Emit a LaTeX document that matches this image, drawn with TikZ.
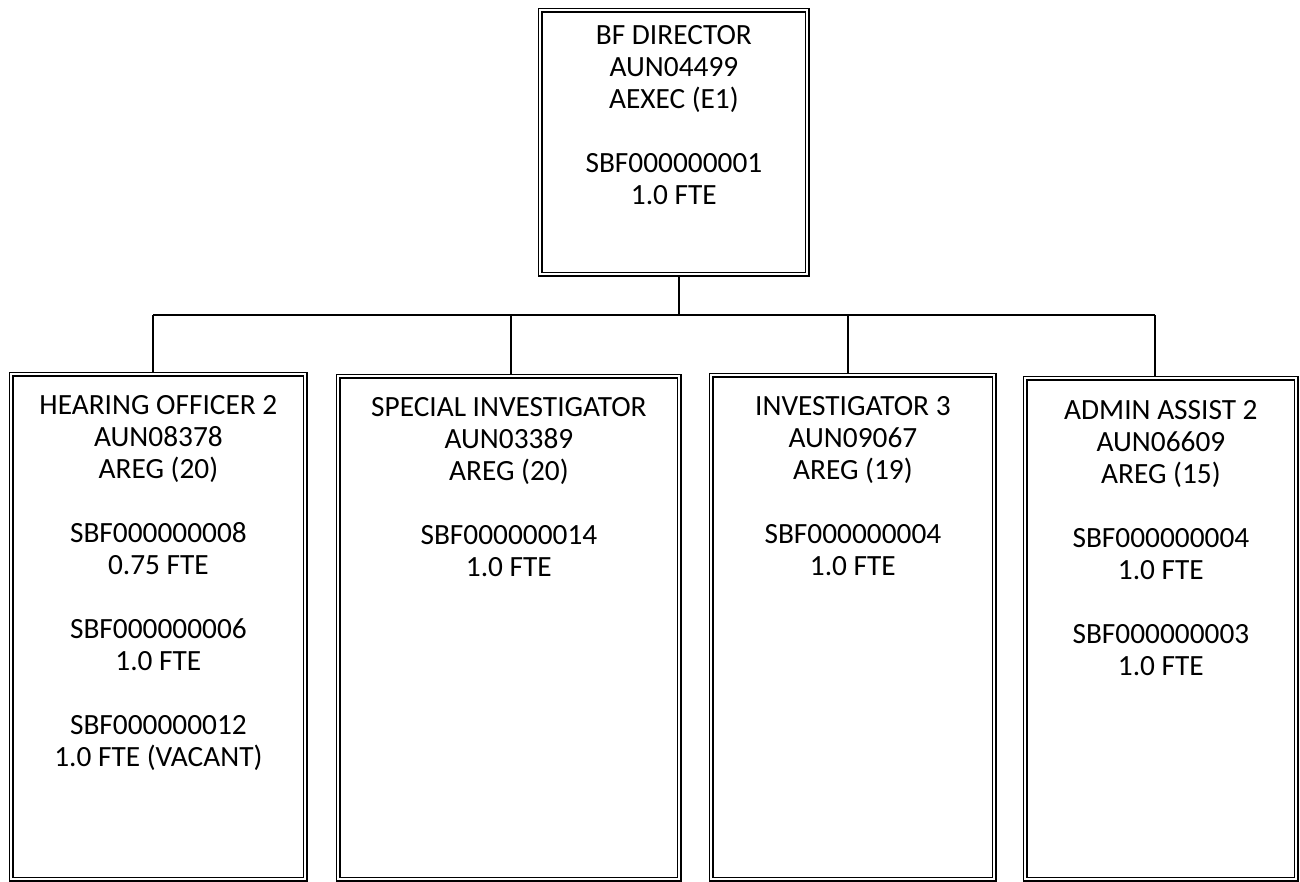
\documentclass[tikz,border=0pt]{standalone}
\usepackage{fontspec}
\setmainfont{Carlito}
\usetikzlibrary{positioning}

\begin{document}
\begin{tikzpicture}[x=0.75pt,y=-0.75pt,thick,
    post/.style={draw, double, line width=1.1pt, double distance=1.4pt,
                 outer sep=1.8pt, inner sep=0pt, anchor=north west},
    info/.style={align=center, inner sep=0pt, anchor=north,
                 font=\fontsize{22}{24}\selectfont}]
  \useasboundingbox (0,0) rectangle (1300,882);
  % boxes
  \node (dir)  [post, minimum width=200.25pt, minimum height=198pt]    at (538,8)   {};
  \node (hear) [post, minimum width=220.5pt,  minimum height=378.75pt] at (9,372)   {};
  \node (spec) [post, minimum width=255.75pt, minimum height=377.25pt] at (336,374) {};
  \node (inv)  [post, minimum width=212.25pt, minimum height=378pt]    at (709,373) {};
  \node (adm)  [post, minimum width=203.25pt, minimum height=375.75pt] at (1023,376) {};
  % texts
  \node (dirtxt)  [info, below=13pt of dir.north] {BF DIRECTOR\\AUN04499\\AEXEC (E1)\\[24pt]SBF000000001\\1.0 FTE};
  \node (heartxt) [info, below=17pt of hear.north] {HEARING OFFICER 2\\AUN08378\\AREG (20)\\[24pt]SBF000000008\\0.75 FTE\\[24pt]SBF000000006\\1.0 FTE\\[24pt]SBF000000012\\1.0 FTE (VACANT)};
  \node (spectxt) [info, below=17pt of spec.north] {SPECIAL INVESTIGATOR\\AUN03389\\AREG (20)\\[24pt]SBF000000014\\1.0 FTE};
  \node (invtxt)  [info, below=17pt of inv.north] {INVESTIGATOR 3\\AUN09067\\AREG (19)\\[24pt]SBF000000004\\1.0 FTE};
  \node (admtxt)  [info, below=18pt of adm.north] {ADMIN ASSIST 2\\AUN06609\\AREG (15)\\[24pt]SBF000000004\\1.0 FTE\\[24pt]SBF000000003\\1.0 FTE};
  % connectors
  \coordinate (bus)  at (679,315);
  \coordinate (hbus) at (153,315);
  \coordinate (sbus) at (511,315);
  \coordinate (ibus) at (848,315);
  \coordinate (abus) at (1155,315);
  \draw (bus |- dir.south) -- (bus);
  \draw (hbus) -- (abus);
  \draw (hbus) -- (hbus |- hear.north);
  \draw (sbus) -- (sbus |- spec.north);
  \draw (ibus) -- (ibus |- inv.north);
  \draw (abus) -- (abus |- adm.north);
\end{tikzpicture}
\end{document}
